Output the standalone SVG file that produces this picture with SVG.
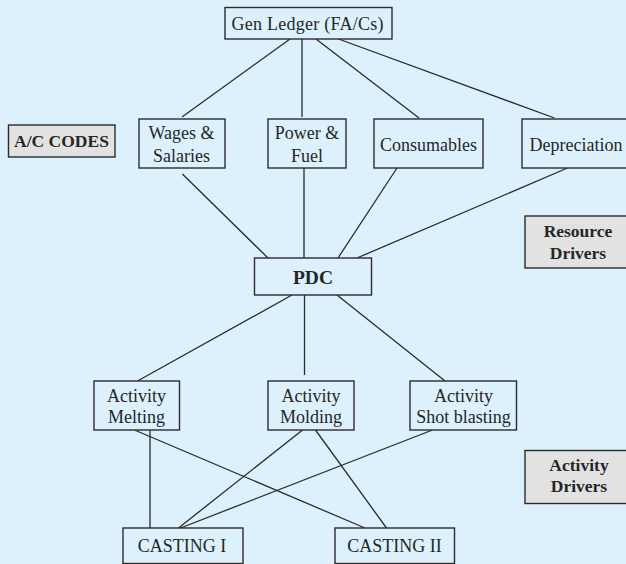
<svg xmlns="http://www.w3.org/2000/svg" width="626" height="564" viewBox="0 0 626 564">
<style>
.bg{fill:#dcf1fc}
.box{fill:#dcf1fc;stroke:#2b2b2b;stroke-width:1.4}
.gbox{fill:#e2e2e2;stroke:#2b2b2b;stroke-width:1.4}
.t{font-family:"Liberation Serif",serif;font-size:18px;fill:#262626;text-anchor:middle}
.b{font-family:"Liberation Serif",serif;font-size:17.5px;font-weight:bold;fill:#262626;text-anchor:middle}
.c line{stroke:#2b2b2b;stroke-width:1.3}
</style>
<rect class="bg" x="0" y="0" width="626" height="564"/>
<g class="c" id="connectors">
<line x1="290" y1="39" x2="182" y2="117"/>
<line x1="302" y1="39" x2="302" y2="117"/>
<line x1="316" y1="39" x2="419" y2="118"/>
<line x1="338.5" y1="39" x2="554.5" y2="118"/>
<line x1="182.4" y1="174" x2="268" y2="258"/>
<line x1="304" y1="168" x2="304" y2="258"/>
<line x1="397" y1="168" x2="338" y2="258"/>
<line x1="567.5" y1="168" x2="357" y2="258"/>
<line x1="292" y1="295" x2="137.5" y2="381"/>
<line x1="304.5" y1="295" x2="304.5" y2="375"/>
<line x1="337" y1="295" x2="445" y2="381"/>
<line x1="150" y1="430" x2="150" y2="528"/>
<line x1="134.5" y1="430" x2="365" y2="528"/>
<line x1="302.5" y1="430" x2="178.5" y2="528"/>
<line x1="315.5" y1="430" x2="386.5" y2="528"/>
<line x1="432.5" y1="430" x2="180.5" y2="528"/>
</g>
<g id="gen-ledger"><rect class="box" x="225" y="7.5" width="167" height="31.5"/><text class="t" x="307.5" y="29.5" textLength="152" lengthAdjust="spacing">Gen Ledger (FA/Cs)</text></g>
<g id="ac-codes"><rect class="gbox" x="8.5" y="125" width="106.5" height="32"/><text class="b" x="61.5" y="147">A/C CODES</text></g>
<g id="wages"><rect class="box" x="139" y="119" width="86" height="49"/><text class="t" x="181.5" y="139">Wages &amp;</text><text class="t" x="181.5" y="161.5">Salaries</text></g>
<g id="power"><rect class="box" x="268" y="119" width="78" height="49"/><text class="t" x="307" y="139">Power &amp;</text><text class="t" x="307" y="161.5">Fuel</text></g>
<g id="consumables"><rect class="box" x="374" y="119" width="109" height="49"/><text class="t" x="428.5" y="151">Consumables</text></g>
<g id="depreciation"><rect class="box" x="522" y="119" width="110" height="49"/><text class="t" x="576" y="151">Depreciation</text></g>
<g id="resource-drivers"><rect class="gbox" x="525" y="216" width="108" height="52"/><text class="b" x="578" y="236.5">Resource</text><text class="b" x="578" y="258.5">Drivers</text></g>
<g id="pdc"><rect class="box" x="254.5" y="258" width="117" height="37"/><text class="b" x="313" y="284" style="font-size:19.5px">PDC</text></g>
<g id="act-melting"><rect class="box" x="94" y="381" width="85.5" height="49"/><text class="t" x="136.5" y="401.5">Activity</text><text class="t" x="136.5" y="423">Melting</text></g>
<g id="act-molding"><rect class="box" x="268" y="381" width="86" height="49"/><text class="t" x="311" y="401.5">Activity</text><text class="t" x="311" y="423">Molding</text></g>
<g id="act-shot"><rect class="box" x="410" y="381" width="106.5" height="49"/><text class="t" x="463.5" y="401.5">Activity</text><text class="t" x="463.5" y="423">Shot blasting</text></g>
<g id="activity-drivers"><rect class="gbox" x="525" y="450.5" width="108" height="53"/><text class="b" x="579" y="470.5">Activity</text><text class="b" x="579" y="492">Drivers</text></g>
<g id="casting-1"><rect class="box" x="123" y="528" width="120" height="35.5"/><text class="t" x="182" y="552">CASTING I</text></g>
<g id="casting-2"><rect class="box" x="335" y="528" width="119.5" height="35.5"/><text class="t" x="394.5" y="552">CASTING II</text></g>
</svg>
